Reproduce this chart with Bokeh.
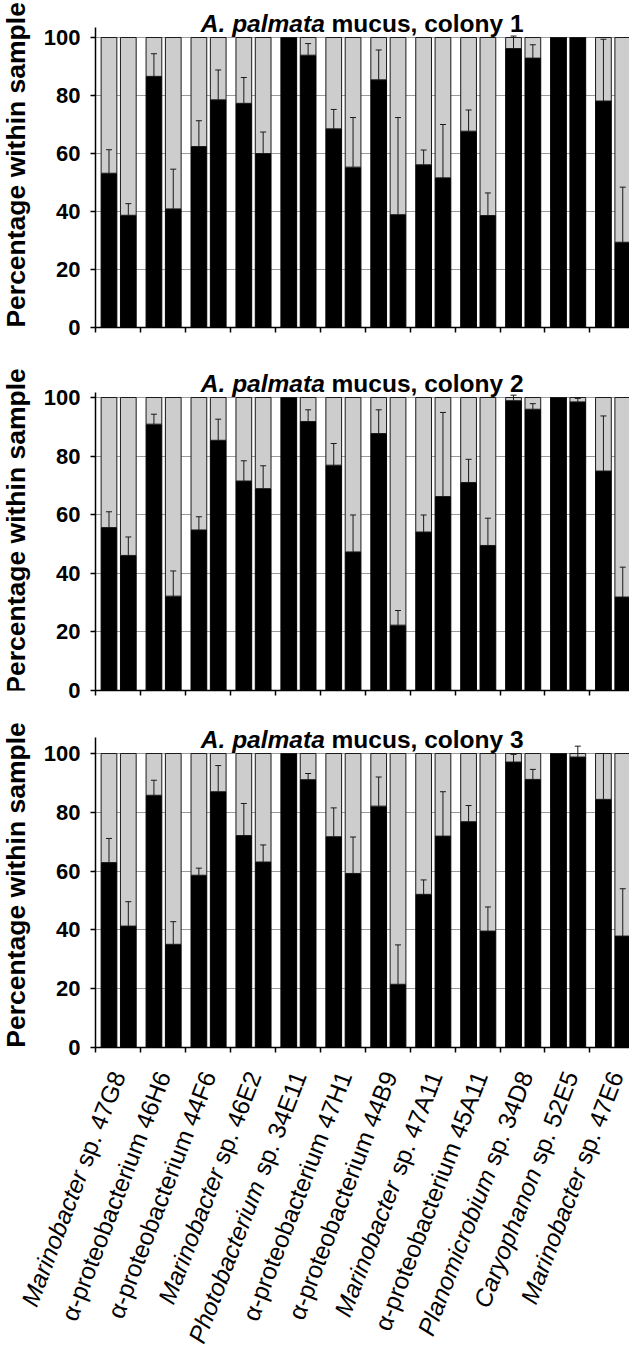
import math
from bokeh.plotting import figure
from bokeh.models import (ColumnDataSource, Range1d, FixedTicker, Whisker,
                          TeeHead, LabelSet, Label)
from bokeh.core.properties import value
from bokeh.layouts import column, row
from bokeh.embed import file_html
from bokeh.resources import INLINE

# ---------------- data ----------------
categories = [
    "Marinobacter sp. 47G8", "\u03b1-proteobacterium 46H6", "\u03b1-proteobacterium 44F6",
    "Marinobacter sp. 46E2", "Photobacterium sp. 34E11", "\u03b1-proteobacterium 47H1",
    "\u03b1-proteobacterium 44B9", "Marinobacter sp. 47A11", "\u03b1-proteobacterium 45A11",
    "Planomicrobium sp. 34D8", "Caryophanon sp. 52E5", "Marinobacter sp. 47E6",
]
panel_titles = ["colony 1", "colony 2", "colony 3"]
y_label = "Percentage within sample"
y_ticks = [0, 20, 40, 60, 80, 100]

# black (lower) share of the left / right bar in each pair, with upward error
c1_left = [53.2, 86.6, 62.4, 77.3, 100, 68.5, 85.4, 56.1, 67.7, 96.2, 100, 78.1]
c1_right = [38.7, 40.9, 78.5, 60.0, 93.9, 55.3, 38.9, 51.6, 38.6, 92.9, 100, 29.4]
c1_left_err = [8.1, 7.8, 8.9, 8.9, 0, 6.7, 10.3, 5.1, 7.3, 4.3, 0, 21.3]
c1_right_err = [4.0, 13.7, 10.3, 7.4, 4.0, 17.1, 33.5, 18.4, 7.8, 4.6, 0, 19.0]

c2_left = [55.6, 90.9, 54.8, 71.5, 100, 76.9, 87.7, 54.1, 71.0, 98.9, 100, 74.9]
c2_right = [46.1, 32.2, 85.4, 68.9, 91.8, 47.3, 22.3, 66.2, 49.5, 96.0, 98.5, 31.9]
c2_left_err = [5.4, 3.4, 4.5, 6.9, 0, 7.4, 8.1, 5.8, 7.9, 1.9, 0, 18.8]
c2_right_err = [6.3, 8.6, 7.2, 7.8, 4.0, 12.6, 5.0, 28.7, 9.3, 1.9, 1.2, 10.2]

c3_left = [62.9, 85.8, 58.6, 72.1, 100, 71.7, 82.1, 52.1, 76.8, 97.1, 100, 84.4]
c3_right = [41.3, 35.1, 87.0, 63.1, 91.1, 59.2, 21.5, 71.9, 39.6, 91.2, 98.8, 37.9]
c3_left_err = [8.2, 5.1, 2.4, 10.9, 0, 9.8, 9.9, 4.9, 5.5, 2.6, 0, 15.6]
c3_right_err = [8.3, 7.7, 8.9, 5.8, 2.1, 12.4, 13.4, 15.1, 8.2, 3.4, 3.7, 16.1]

# ---------------- style helpers ----------------
FONT = "Liberation Sans"
BLACK = "#000000"
GRAY = "#cdcdcd"
X_END = 11.88
YLAB_W = 40          # width of the strip holding the rotated y label
PANEL_W = 589
BORDER_L = 51
PX_PER_GROUP = (PANEL_W - BORDER_L) / X_END

# Arial-metric advance widths (1/1000 em) for measuring label pieces
W_REG = {" ": 278, ".": 278, "s": 500, "p": 556, "A": 667, "B": 667, "D": 722,
         "E": 667, "F": 611, "G": 778, "H": 722}
W_BOLD = {" ": 278, ".": 278, ",": 278, "A": 722, "a": 556, "c": 556, "l": 278,
          "m": 889, "n": 611, "o": 611, "p": 611, "s": 556, "t": 333, "u": 611,
          "y": 556}


def text_width(s, size, table):
    return sum(table.get(ch, 556) for ch in s) * size / 1000.0


def make_panel(idx, left, right, lerr, rerr, y_end, axis_top, height, bottom):
    p = figure(width=PANEL_W, height=height, x_range=Range1d(0, X_END),
               y_range=Range1d(0, y_end), output_backend="svg",
               toolbar_location=None, title=None,
               min_border_left=BORDER_L, min_border_right=0,
               min_border_top=0, min_border_bottom=bottom)
    p.outline_line_color = None
    p.background_fill_color = "white"

    n = len(categories)
    xl = [i + 0.30 for i in range(n)]
    xr = [i + 0.73 for i in range(n)]
    xs = xl + xr
    vals = list(left) + list(right)
    errs = list(lerr) + list(rerr)
    src = ColumnDataSource(dict(x=xs, v=vals, full=[100] * len(xs)))
    p.vbar(x="x", width=0.35, bottom=0, top="v", source=src,
           fill_color=BLACK, line_color=BLACK, line_width=1)
    p.vbar(x="x", width=0.35, bottom="v", top="full", source=src,
           fill_color=GRAY, line_color="#1a1a1a", line_width=1)

    ex = [x for x, e in zip(xs, errs) if e > 0]
    elo = [v for v, e in zip(vals, errs) if e > 0]
    ehi = [v + e for v, e in zip(vals, errs) if e > 0]
    esrc = ColumnDataSource(dict(x=ex, lo=elo, hi=ehi))
    p.add_layout(Whisker(source=esrc, base="x", lower="lo", upper="hi",
                         dimension="height", line_color="#1a1a1a", line_width=1,
                         level="overlay", lower_head=None,
                         upper_head=TeeHead(size=6, line_color="#1a1a1a", line_width=1)))

    # axes
    p.yaxis.ticker = FixedTicker(ticks=y_ticks)
    p.yaxis.bounds = (0, axis_top)
    p.yaxis.major_label_text_font = FONT
    p.yaxis.major_label_text_font_style = "bold"
    p.yaxis.major_label_text_font_size = "22px"
    p.yaxis.major_label_text_color = "black"
    p.yaxis.major_label_standoff = 10
    p.yaxis.major_tick_in = 0
    p.yaxis.major_tick_out = 5
    p.yaxis.minor_tick_line_color = None
    p.yaxis.axis_line_width = 1.5
    p.yaxis.major_tick_line_width = 1.5

    p.xaxis.ticker = FixedTicker(ticks=list(range(n + 1)))
    p.xaxis.major_label_overrides = {i: "" for i in range(n + 1)}
    p.xaxis.major_label_text_font_size = "1px"
    p.xaxis.major_tick_in = 0
    p.xaxis.major_tick_out = 5
    p.xaxis.minor_tick_line_color = None
    p.xaxis.axis_line_width = 1.5
    p.xaxis.major_tick_line_width = 1.5

    p.xgrid.visible = False
    p.ygrid.grid_line_color = "#9a9a9a"
    p.ygrid.grid_line_width = 1

    # title in two pieces (italic species name + upright rest)
    tsize = 24.5
    part1 = "A. palmata"
    part2 = "mucus, " + panel_titles[idx]
    w1 = text_width(part1, tsize, W_BOLD)
    wsp = text_width(" ", tsize, W_BOLD)
    w2 = text_width(part2, tsize, W_BOLD)
    start = -3 - (w1 + wsp + w2) / 2
    for txt, style, off in [(part1, "bold italic", start),
                            (part2, "bold", start + w1 + wsp)]:
        p.add_layout(Label(x=n / 2, y=100, x_offset=off, y_offset=14.5, text=txt,
                           text_font=FONT, text_font_style=style,
                           text_font_size=f"{tsize}px", text_align="left",
                           text_baseline="alphabetic", text_color="black"))

    # strip on the left with the rotated axis title, same vertical scale
    frame_h = height - bottom
    y0 = -bottom * y_end / frame_h
    s = figure(width=YLAB_W, height=height, x_range=Range1d(0, 1),
               y_range=Range1d(y0, y_end),
               output_backend="svg", toolbar_location=None, title=None,
               x_axis_type=None, y_axis_type=None,
               min_border_left=0, min_border_right=0,
               min_border_top=0, min_border_bottom=0)
    s.outline_line_color = None
    s.grid.visible = False
    s.add_layout(Label(x=0.375, y=axis_top / 2, text=y_label, angle=90,
                       angle_units="deg", text_align="center",
                       text_baseline="middle", text_font=FONT,
                       text_font_style="bold", text_font_size="26.5px",
                       text_color="black"))
    return row(s, p, spacing=0)


def make_labels(height):
    x0 = -(YLAB_W + BORDER_L) / PX_PER_GROUP
    p = figure(width=YLAB_W + PANEL_W, height=height, x_range=Range1d(x0, X_END),
               y_range=Range1d(0, 1), output_backend="svg",
               toolbar_location=None, title=None,
               x_axis_type=None, y_axis_type=None,
               min_border_left=0, min_border_right=0,
               min_border_top=0, min_border_bottom=0)
    p.outline_line_color = None
    p.grid.visible = False
    lsize = 24.5
    ang = 69
    th = math.radians(ang)
    dx0, dy0 = 4, -10
    gx, gt, gxo, gyo = [], [], [], []
    rx, rt, rxo, ryo = [], [], [], []
    for i, name in enumerate(categories):
        if " sp. " in name:
            genus, rest = name.split(" sp. ")
            rest = "sp. " + rest
        else:
            genus, rest = "", name
        rx.append(i + 0.5); rt.append(rest); rxo.append(dx0); ryo.append(dy0)
        if genus:
            w = text_width(rest, lsize, W_REG) + text_width(" ", lsize, W_REG)
            gx.append(i + 0.5); gt.append(genus)
            gxo.append(dx0 - w * math.cos(th)); gyo.append(dy0 - w * math.sin(th))
    rsrc = ColumnDataSource(dict(x=rx, y=[1] * len(rx), t=rt, xo=rxo, yo=ryo))
    gsrc = ColumnDataSource(dict(x=gx, y=[1] * len(gx), t=gt, xo=gxo, yo=gyo))
    for src, style in [(rsrc, "normal"), (gsrc, "italic")]:
        p.add_layout(LabelSet(x="x", y="y", text="t", source=src,
                              x_offset="xo", y_offset="yo",
                              angle=ang, angle_units="deg",
                              text_font=value(FONT), text_font_style=style,
                              text_font_size=f"{lsize}px", text_align="right",
                              text_baseline="middle", text_color="black"))
    return p


# frames: panel 1 y 8-335, panel 2 y 360-698, panel 3 y 718-1055
r1 = make_panel(0, c1_left, c1_right, c1_left_err, c1_right_err,
                112.76, 103.5, 352, 25)
r2 = make_panel(1, c2_left, c2_right, c2_left_err, c2_right_err,
                115.36, 101.7, 358, 20)
r3 = make_panel(2, c3_left, c3_right, c3_left_err, c3_right_err,
                114.63, 105.3, 352, 15)
pl = make_labels(284)

layout = column(r1, r2, r3, pl, spacing=0)
open("out.html", "w").write(file_html(layout, INLINE))
